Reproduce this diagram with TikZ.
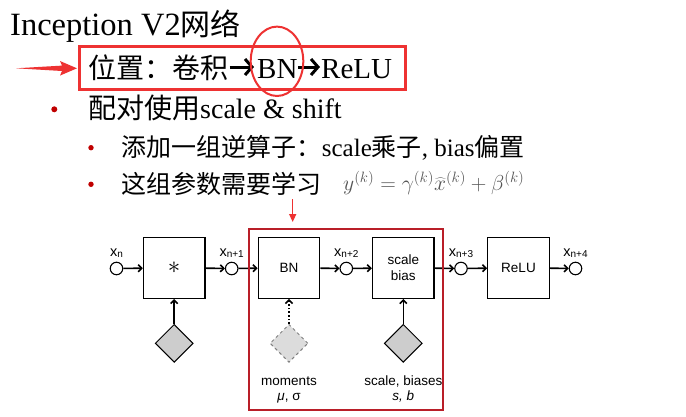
\documentclass[tikz,border=0pt]{standalone}
\usepackage{fontspec}
\setmainfont{Liberation Serif}
\newfontfamily\cjk{Noto Sans CJK SC}
\newfontfamily\hv{Liberation Sans}
\usetikzlibrary{arrows.meta,shapes.geometric}
\definecolor{hl}{RGB}{238,50,50}
\definecolor{bul}{RGB}{192,0,0}
\definecolor{dred}{RGB}{185,30,40}
\definecolor{dgray}{RGB}{205,205,205}
\definecolor{lgray}{RGB}{220,220,220}
\definecolor{fgray}{RGB}{85,85,85}
\newcommand{\xlab}[1]{x\raisebox{-1.8pt}{\fontsize{10}{10}\selectfont #1}}
\tikzset{
  txt/.style={anchor=base west, inner sep=0pt},
  tarr/.style={line width=3pt, -{Straight Barb[length=7pt,width=16pt,line width=3pt]}},
  blk/.style={draw, line width=1.3pt, minimum width=61.5pt, minimum height=61pt, inner sep=0pt, fill=white, font=\hv\fontsize{13.5}{15.5}\selectfont, align=center},
  var/.style={circle, draw, line width=1.1pt, minimum size=12.5pt, inner sep=0pt, fill=white},
  prm/.style={diamond, draw, line width=1pt, fill=dgray, minimum width=38pt, minimum height=38pt, inner sep=0pt},
  flow/.style={line width=1.6pt, -{Straight Barb[length=3.5pt,width=7pt]}},
  lab/.style={anchor=base, inner sep=0pt, font=\hv\fontsize{14.5}{14.5}\selectfont},
  captxt/.style={anchor=base, inner sep=0pt, font=\hv\fontsize{13.5}{13.5}\selectfont},
}
\begin{document}
\begin{tikzpicture}[x=1pt,y=-1pt]
\useasboundingbox (0,0) rectangle (686,416);
\fill[white] (0,0) rectangle (686,416);
% ---- text part ----
\node[txt, font=\fontsize{32.5}{32.5}\selectfont] (title) at (10,35) {Inception V2{\cjk\fontsize{30}{30}\selectfont 网络}};
\node[txt, font=\cjk\fontsize{28}{28}\selectfont] (pos) at (88,78) {位置：卷积};
\node[txt, font=\fontsize{29}{29}\selectfont] (bn) at (257,78) {BN};
\node[txt, font=\fontsize{29}{29}\selectfont] (relu) at (321,78) {ReLU};
\coordinate (a1s) at (229.5,67);
\coordinate (a1e) at (254,67);
\coordinate (a2s) at (298,67);
\coordinate (a2e) at (320,67);
\draw[tarr] (a1s) -- (a1e);
\draw[tarr] (a2s) -- (a2e);
\draw[hl, line width=3pt] (79,46.7) rectangle (405,89.3);
\draw[hl, line width=2pt] (277,61.3) ellipse [x radius=26.3, y radius=34.7];
\fill[hl] (16,68.3) -- (62,65.6) -- (60,61) -- (77,68.3) -- (60,75.6) -- (62,71) -- cycle;
\fill[bul] (54.3,109.3) circle (3);
\node[txt, font=\fontsize{28}{28}\selectfont] (pair) at (88,118.3) {{\cjk 配对使用}scale \& shift};
\fill[bul] (91,147.7) circle (2.7);
\node[txt, font=\fontsize{25}{25}\selectfont] (inv) at (121.7,156) {{\cjk 添加一组逆算子：}scale{\cjk 乘子}, bias{\cjk 偏置}};
\fill[bul] (91,184.3) circle (2.7);
\node[txt, font=\fontsize{25}{25}\selectfont] (learn) at (121.7,193) {\cjk 这组参数需要学习};
\node[txt, text=fgray, font=\fontsize{21}{21}\selectfont] (eq) at (343,190) {\scalebox{1.04}{$y^{(k)} = \gamma^{(k)}\widehat{x}^{(k)} + \beta^{(k)}$}};
\coordinate (ra) at (292.7,199);
\coordinate (rb) at (292.7,222);
\draw[hl, line width=1.5pt, -{Triangle[length=8pt,width=7pt]}] (ra) -- (rb);
% ---- diagram ----
\node[var] (x0) at (116.5,268.5) {};
\node[blk] (b1) at (174.2,267.8) {\fontsize{24}{24}\selectfont $\ast$};
\node[var] (x1) at (231.7,268.5) {};
\node[blk] (b2) at (289,267.8) {BN};
\node[var] (x2) at (346.3,268.5) {};
\node[blk] (b3) at (403.3,267.8) {scale\\bias};
\node[var] (x3) at (461,268.5) {};
\node[blk] (b4) at (518.5,267.8) {ReLU};
\node[var] (x4) at (575.5,268.5) {};
\node[lab] (l0) at (116.5,256) {\xlab{n}};
\node[lab] (l1) at (231.7,256) {\xlab{n+1}};
\node[lab] (l2) at (346.3,256) {\xlab{n+2}};
\node[lab] (l3) at (461,256) {\xlab{n+3}};
\node[lab] (l4) at (575.5,256) {\xlab{n+4}};
\node[prm] (d1) at (174.2,343.3) {};
\node[prm, draw=gray, dashed, fill=lgray] (d2) at (289,343.3) {};
\node[prm] (d3) at (403.3,343.3) {};
\draw[flow] (x0) -- (b1);
\draw[flow] (b1) -- (x1);
\draw[flow] (x1) -- (b2);
\draw[flow] (b2) -- (x2);
\draw[flow] (x2) -- (b3);
\draw[flow] (b3) -- (x3);
\draw[flow] (x3) -- (b4);
\draw[flow] (b4) -- (x4);
\draw[flow] (d1) -- (b1);
\draw[flow, dotted] (d2) -- (b2);
\draw[flow] (d3) -- (b3);
\node[captxt] (m1) at (289,385) {moments};
\node[captxt] (m2) at (289,400) {{\itshape μ}, σ};
\node[captxt] (s1) at (403.3,385) {scale, biases};
\node[captxt] (s2) at (403.3,400) {\itshape s, b};
\draw[dred, line width=2pt] (249,229.3) rectangle (443.3,410);
\end{tikzpicture}
\end{document}
